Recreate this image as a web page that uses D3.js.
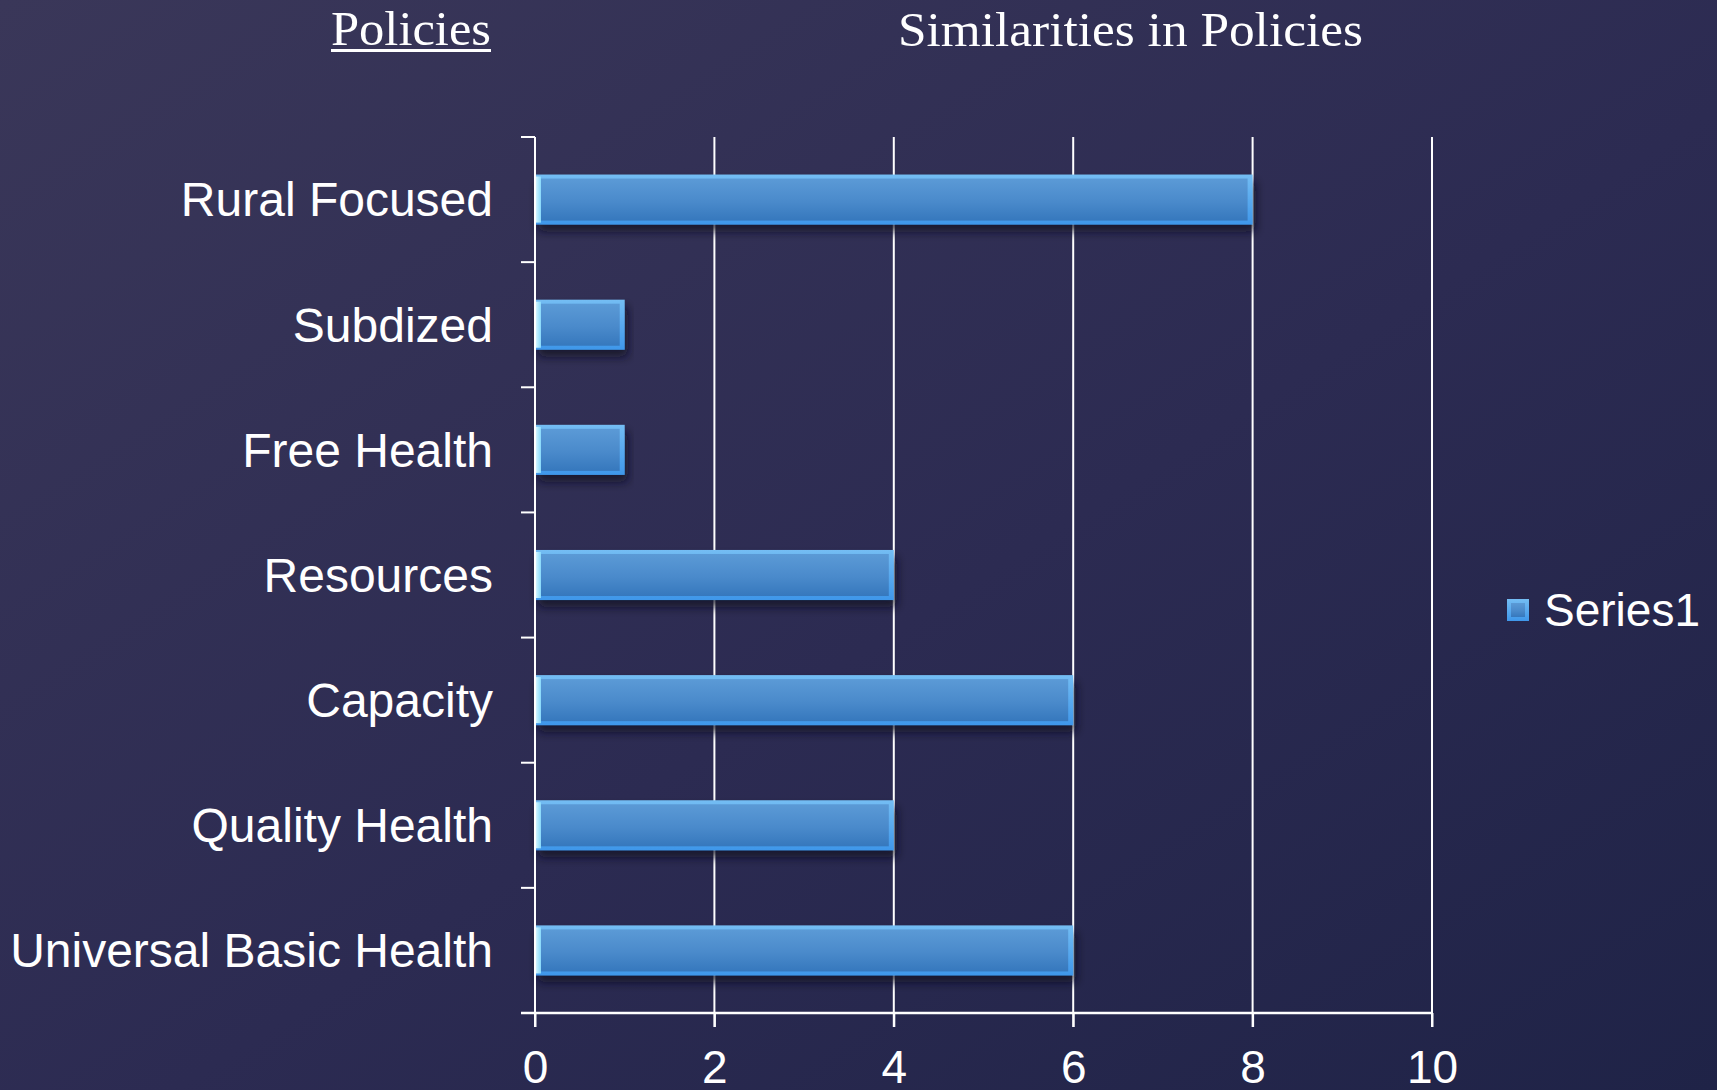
<!DOCTYPE html>
<html>
<head>
<meta charset="utf-8">
<script src="https://cdn.jsdelivr.net/npm/d3@7"></script>
<style>
  html, body { margin: 0; padding: 0; background: #2b2b50; overflow: hidden; }
  svg text { font-family: "Liberation Sans", Arial, sans-serif; fill: #fff; }
</style>
</head>
<body>
<div id="chart"></div>
<script>
// data
var categories = ["Rural Focused", "Subdized", "Free Health", "Resources", "Capacity", "Quality Health", "Universal Basic Health"];
var values = [8, 1, 1, 4, 6, 4, 6];
var xTicks = [0, 2, 4, 6, 8, 10];
var seriesName = "Series1";

var W = 1717, H = 1090;
var plot = {left: 535, right: 1432, top: 137, bottom: 1013};

var svg = d3.select("#chart").append("svg")
    .attr("width", W)
    .attr("height", H);

var defs = svg.append("defs");

// slide background
var bg = defs.append("linearGradient").attr("id", "bg")
    .attr("x1", "0").attr("y1", "0").attr("x2", "1").attr("y2", "1");
bg.append("stop").attr("offset", "0%").attr("stop-color", "#3a3759");
bg.append("stop").attr("offset", "55%").attr("stop-color", "#2c2b52");
bg.append("stop").attr("offset", "100%").attr("stop-color", "#1f2347");

// bar body gradient
var bar = defs.append("linearGradient").attr("id", "barFill")
    .attr("x1", "0").attr("y1", "0").attr("x2", "0").attr("y2", "1");
bar.append("stop").attr("offset", "0%").attr("stop-color", "#5b9ad6");
bar.append("stop").attr("offset", "55%").attr("stop-color", "#4a8acb");
bar.append("stop").attr("offset", "100%").attr("stop-color", "#3678bd");

// bevel edge gradient
var edge = defs.append("linearGradient").attr("id", "barEdge")
    .attr("x1", "0").attr("y1", "0").attr("x2", "0").attr("y2", "1");
edge.append("stop").attr("offset", "0%").attr("stop-color", "#74bdf3");
edge.append("stop").attr("offset", "100%").attr("stop-color", "#3f97ea");

var leftEdge = defs.append("linearGradient").attr("id", "leftEdge")
    .attr("x1", "0").attr("y1", "0").attr("x2", "1").attr("y2", "0");
leftEdge.append("stop").attr("offset", "0%").attr("stop-color", "#e0fbff");
leftEdge.append("stop").attr("offset", "100%").attr("stop-color", "#86d8fb");

var shadow = defs.append("filter").attr("id", "shadow")
    .attr("x", "-5%").attr("y", "-30%").attr("width", "115%").attr("height", "180%");
shadow.append("feDropShadow")
    .attr("dx", 3).attr("dy", 7).attr("stdDeviation", 5)
    .attr("flood-color", "#0b0c20").attr("flood-opacity", 0.75);

svg.append("rect").attr("width", W).attr("height", H).attr("fill", "url(#bg)");

// titles
svg.append("text")
    .attr("x", 331).attr("y", 45)
    .attr("textLength", 160).attr("lengthAdjust", "spacingAndGlyphs")
    .style("font-family", "'Liberation Serif', 'DejaVu Serif', serif")
    .style("font-size", "48px")
    .text("Policies");
svg.append("rect")
    .attr("x", 331).attr("y", 49).attr("width", 160).attr("height", 3)
    .attr("fill", "#fff");

svg.append("text")
    .attr("x", 898).attr("y", 46)
    .attr("textLength", 465).attr("lengthAdjust", "spacingAndGlyphs")
    .style("font-family", "'Liberation Serif', 'DejaVu Serif', serif")
    .style("font-size", "48px")
    .text("Similarities in Policies");

var x = d3.scaleLinear()
    .domain([0, 10])
    .range([plot.left, plot.right]);

var y = d3.scaleBand()
    .domain(categories)
    .range([plot.top, plot.bottom])
    .paddingInner(0.6)
    .paddingOuter(0.3);

// vertical gridlines (+ tick below axis)
svg.append("g").selectAll("line")
    .data(xTicks.filter(function(d) { return d > 0; }))
  .enter().append("line")
    .attr("x1", function(d) { return x(d); })
    .attr("x2", function(d) { return x(d); })
    .attr("y1", plot.top)
    .attr("y2", plot.bottom + 14)
    .attr("stroke", "#ffffff")
    .attr("stroke-width", 2);

// bars
var bars = svg.append("g").selectAll("g")
    .data(values)
  .enter().append("g");

bars.append("rect")
    .attr("x", x(0))
    .attr("y", function(d, i) { return y(categories[i]); })
    .attr("width", function(d) { return x(d) - x(0); })
    .attr("height", y.bandwidth())
    .attr("fill", "url(#barEdge)")
    .attr("filter", "url(#shadow)");

bars.append("rect")
    .attr("x", x(0))
    .attr("y", function(d, i) { return y(categories[i]) + 2; })
    .attr("width", 6)
    .attr("height", y.bandwidth() - 4)
    .attr("fill", "url(#leftEdge)");

bars.append("rect")
    .attr("x", x(0) + 6)
    .attr("y", function(d, i) { return y(categories[i]) + 4; })
    .attr("width", function(d) { return x(d) - x(0) - 11; })
    .attr("height", y.bandwidth() - 8)
    .attr("fill", "url(#barFill)");

// y axis line + category boundary ticks
var step = y.step();
var yAxis = svg.append("g").attr("stroke", "#ffffff").attr("stroke-width", 2);
yAxis.append("line")
    .attr("x1", x(0)).attr("x2", x(0))
    .attr("y1", plot.top).attr("y2", plot.bottom + 14);
yAxis.selectAll("line.tk")
    .data(d3.range(categories.length + 1))
  .enter().append("line")
    .attr("class", "tk")
    .attr("x1", x(0) - 14).attr("x2", x(0))
    .attr("y1", function(i) { return plot.top + i * step; })
    .attr("y2", function(i) { return plot.top + i * step; });

// x axis
var xAxis = svg.append("g")
    .attr("transform", "translate(0," + plot.bottom + ")")
    .call(d3.axisBottom(x).tickValues(xTicks).tickSize(14).tickPadding(23).tickSizeOuter(0));
xAxis.select(".domain").remove();
xAxis.append("line")
    .attr("x1", x(0) - 14).attr("x2", x(10))
    .attr("stroke", "#ffffff").attr("stroke-width", 2.5);
xAxis.selectAll(".tick line").attr("stroke", "#ffffff").attr("stroke-width", 2);
xAxis.selectAll(".tick text")
    .attr("fill", "#ffffff")
    .style("font-family", "'Liberation Sans', Arial, sans-serif")
    .style("font-size", "46px");

// category labels
svg.append("g").selectAll("text")
    .data(categories)
  .enter().append("text")
    .attr("x", 493)
    .attr("y", function(d) { return y(d) + y.bandwidth() / 2; })
    .attr("dy", "0.35em")
    .attr("text-anchor", "end")
    .style("font-size", "48px")
    .text(function(d) { return d; });

// legend
var lg = svg.append("g").attr("transform", "translate(1507,599)");
lg.append("rect").attr("width", 22).attr("height", 22).attr("fill", "url(#barEdge)");
lg.append("rect").attr("x", 4).attr("y", 4).attr("width", 14).attr("height", 14).attr("fill", "url(#barFill)");
lg.append("text")
    .attr("x", 37).attr("y", 11)
    .attr("dy", "0.35em")
    .style("font-size", "46px")
    .text(seriesName);
</script>
</body>
</html>
